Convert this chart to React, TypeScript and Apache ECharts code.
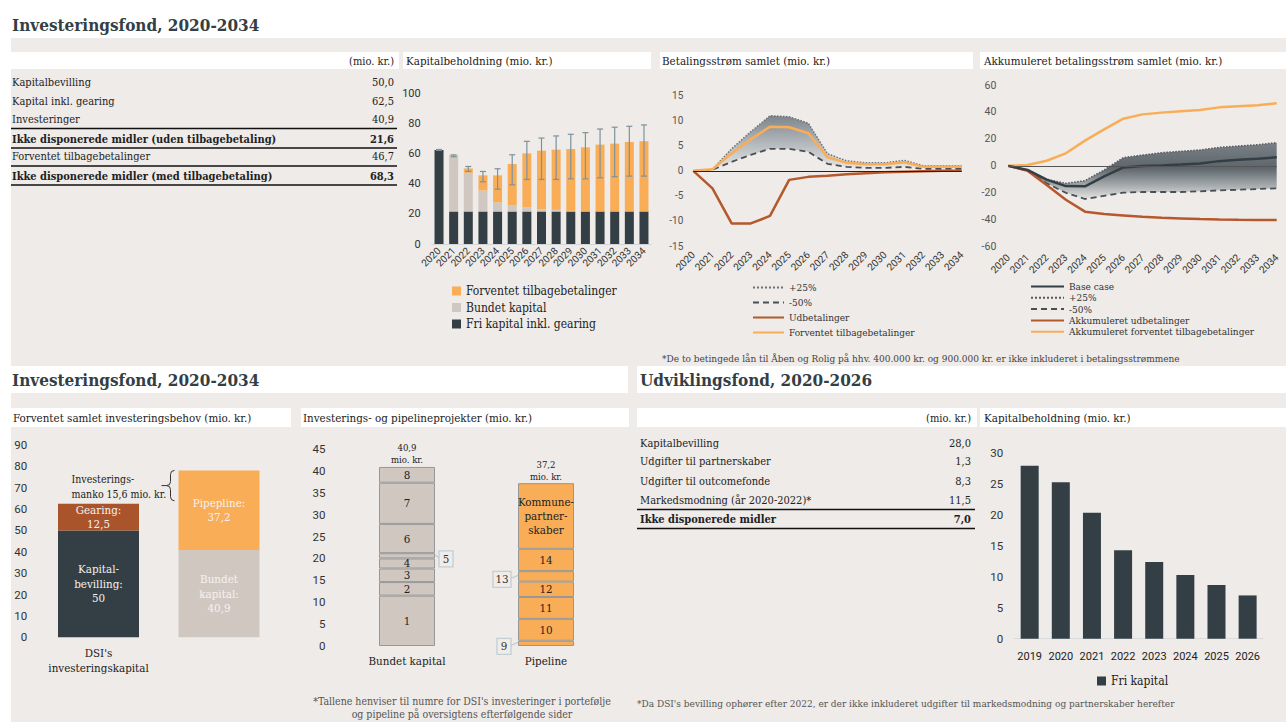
import React, { useEffect, useRef } from "react";
import * as echarts from "echarts";

// ---------- DATA ----------
const years = ["2020", "2021", "2022", "2023", "2024", "2025", "2026", "2027", "2028", "2029", "2030", "2031", "2032", "2033", "2034"];

// Kapitalbeholdning (Investeringsfond)
const friKapital = [62.5, 21.6, 21.6, 21.6, 21.6, 21.6, 21.6, 21.6, 21.6, 21.6, 21.6, 21.6, 21.6, 21.6, 21.6];
const bundetKapital = [0, 37.3, 25.7, 14.0, 6.0, 4.0, 2.8, 1.5, 1.1, 0.4, 0.3, 0, 0, 0, 0];
const forventetTilbage = [0, 0.3, 2.9, 10.0, 18.0, 27.5, 35.8, 38.9, 40.0, 41.1, 42.3, 44.4, 45.1, 46.2, 46.7];
const fejlLav = [62.2, 58.0, 48.2, 41.3, 36.4, 39.3, 42.9, 42.9, 42.9, 43.3, 43.3, 44.0, 44.7, 45.1, 45.1];
const fejlHoej = [62.8, 59.2, 51.5, 48.2, 50.0, 59.3, 68.2, 70.4, 71.8, 72.9, 74.0, 76.4, 77.6, 78.2, 79.1];

// Betalingsstrøm samlet
const udbetalinger = [0, -3.5, -10.5, -10.5, -9.0, -1.8, -1.2, -1.0, -0.7, -0.5, -0.3, -0.2, -0.1, 0, 0];
const forventetBetaling = [0, 0.3, 3.5, 6.3, 8.8, 8.7, 7.5, 2.7, 1.6, 1.3, 1.3, 1.7, 0.8, 0.8, 0.8];
const plus25 = [0, 0.3, 4.4, 7.8, 11.0, 10.8, 9.5, 3.4, 2.0, 1.6, 1.6, 2.1, 1.0, 1.0, 1.0];
const minus50 = [0, 0.2, 1.8, 3.2, 4.4, 4.4, 3.8, 1.4, 0.8, 0.6, 0.6, 0.8, 0.4, 0.4, 0.4];

// Akkumuleret betalingsstrøm samlet
const akkUdbetalinger = [0, -3.6, -14.2, -25.2, -34.0, -35.8, -36.8, -37.8, -38.5, -39.0, -39.5, -39.8, -40.0, -40.1, -40.2];
const akkForventet = [0, 0.6, 3.8, 9.3, 18.7, 27.1, 35.0, 38.2, 39.5, 40.5, 41.5, 43.4, 44.2, 44.9, 46.4];
const baseCase = [0, -3.0, -10.2, -15.0, -15.2, -7.8, -1.2, -0.2, 0.3, 1.0, 1.8, 3.5, 4.5, 5.3, 6.3];
const akkPlus25 = [0, -3.0, -10.0, -13.0, -11.0, -3.0, 6.1, 8.0, 9.8, 10.8, 11.8, 13.7, 14.7, 15.7, 17.2];
const akkMinus50 = [0, -3.6, -13.0, -20.0, -24.6, -22.2, -19.9, -19.4, -19.4, -19.4, -18.9, -18.2, -17.7, -17.2, -16.7];

// Forventet samlet investeringsbehov
const behovKategorier = ["DSI's\ninvesteringskapital", "Investeringer og\npipeline"];
const kapitalbevilling = [50, null];
const gearing = [12.5, null];
const bundetIalt = [null, 40.9];
const pipelineIalt = [null, 37.2];
const behovTekster = ["Kapital-\nbevilling:", "Gearing:", "Bundet\nkapital:", "Pipepline:"];

// Investerings- og pipelineprojekter
const projektKategorier = ["Bundet kapital", "Pipeline"];
const bundetProjekter = ["1", "2", "3", "4", "5", "6", "7", "8"];
const bundetVaerdier = [11.5, 3.1, 3.1, 2.3, 1.2, 6.7, 9.4, 3.6];
const pipelineProjekter = ["9", "10", "11", "12", "13", "14", "Kommune-\npartner-\nskaber"];
const pipelineVaerdier = [1.2, 5.0, 5.0, 3.5, 2.4, 5.1, 15.0];
const calloutProjekter = ["5", "13", "9"];

// Udviklingsfond kapitalbeholdning
const udvAar = ["2019", "2020", "2021", "2022", "2023", "2024", "2025", "2026"];
const udvFriKapital = [28.0, 25.3, 20.4, 14.3, 12.4, 10.3, 8.7, 7.0];

// Tabeller
const tabel1Labels = ["Kapitalbevilling", "Kapital inkl. gearing", "Investeringer", "Ikke disponerede midler (uden tilbagebetaling)", "Forventet tilbagebetalinger", "Ikke disponerede midler (med tilbagebetaling)"];
const tabel1Values = [50.0, 62.5, 40.9, 21.6, 46.7, 68.3];
const tabel1Bold = [false, false, false, true, false, true];
const tabel2Labels = ["Kapitalbevilling", "Udgifter til partnerskaber", "Udgifter til outcomefonde", "Markedsmodning (år 2020-2022)*", "Ikke disponerede midler"];
const tabel2Values = [28.0, 1.3, 8.3, 11.5, 7.0];
const tabel2Bold = [false, false, false, false, true];

// ---------- STYLE ----------
const SERIF = "'Roboto Slab', 'DejaVu Serif Condensed', 'DejaVu Serif', serif";
const SANS = "Roboto, 'Noto Sans', Arial, sans-serif";
const DARK = "#333f45";
const ORANGE = "#f9ad57";
const BEIGE = "#d1c7c1";
const BROWN = "#a9542b";
const BROWN_LINE = "#b5582c";
const GREY_BG = "#eeebe8";
const BAR4 = 81;
const BAR5 = 56;

const fmt1 = (v: number) => v.toFixed(1).replace(".", ",");
const fmtShort = (v: number) => (Number.isInteger(v) ? String(v) : fmt1(v));
const sum = (a: number[]) => a.reduce((s, v) => s + v, 0);
const midOf = (a: number[], i: number) => sum(a.slice(0, i)) + a[i] / 2;

const LEGEND_TEXT: Record<string, string> = {
  p25a: "+25%", m50a: "-50%", udbA: "Udbetalinger", fvA: "Forventet tilbagebetalinger",
  baseB: "Base case", p25b: "+25%", m50b: "-50%", udbB: "Akkumuleret udbetalinger", fvB: "Akkumuleret forventet tilbagebetalinger",
};

function txt(x: number, y: number, text: string, o: any = {}) {
  return {
    type: "text", x, y, silent: true, z: 5,
    style: {
      text, align: o.align || "left", verticalAlign: "middle",
      fontFamily: o.family || SERIF, fontSize: o.size || 11.5, fontWeight: o.bold ? "bold" : "normal",
      fill: o.color || "#222",
    },
  };
}
function rect(x: number, y: number, w: number, h: number, fill: string, z = -10) {
  return { type: "rect", silent: true, z, shape: { x, y, width: w, height: h }, style: { fill } };
}
function hline(x1: number, x2: number, y: number, w = 1.4) {
  return { type: "line", silent: true, z: 5, shape: { x1, y1: y, x2, y2: y }, style: { stroke: "#111", lineWidth: w } };
}

function buildGraphic() {
  const g: any[] = [];
  // backgrounds
  g.push(rect(11, 38, 1275, 328, GREY_BG, -20));
  g.push(rect(11, 393, 1275, 329, GREY_BG, -20));
  g.push(rect(628, 366, 9, 27, GREY_BG, -20));
  [[11, 388], [403, 248], [660, 313], [980, 306]].forEach(([x, w]) => g.push(rect(x, 52, w, 17, "#ffffff", -15)));
  [[11, 280], [301, 328], [637, 340], [980, 306]].forEach(([x, w]) => g.push(rect(x, 408, w, 19, "#ffffff", -15)));
  // titles
  g.push(txt(12, 25, "Investeringsfond, 2020-2034", { size: 17, bold: true, color: DARK }));
  g.push(txt(12, 380, "Investeringsfond, 2020-2034", { size: 17, bold: true, color: DARK }));
  g.push(txt(640, 380, "Udviklingsfond, 2020-2026", { size: 17, bold: true, color: DARK }));
  // panel headers
  g.push(txt(394, 61, "(mio. kr.)", { align: "right", size: 11 }));
  g.push(txt(406, 61, "Kapitalbeholdning (mio. kr.)"));
  g.push(txt(662, 61, "Betalingsstrøm samlet (mio. kr.)"));
  g.push(txt(984, 61, "Akkumuleret betalingsstrøm samlet (mio. kr.)"));
  g.push(txt(13, 418, "Forventet samlet investeringsbehov (mio. kr.)"));
  g.push(txt(303, 418, "Investerings- og pipelineprojekter (mio. kr.)"));
  g.push(txt(971, 418, "(mio. kr.)", { align: "right", size: 11 }));
  g.push(txt(984, 418, "Kapitalbeholdning (mio. kr.)"));
  // table 1
  const rows1 = [82.7, 101.5, 119.3, 139, 156.7, 176];
  tabel1Labels.forEach((l, i) => {
    g.push(txt(12, rows1[i], l, { bold: tabel1Bold[i], size: 11 }));
    g.push(txt(394, rows1[i], fmt1(tabel1Values[i]), { bold: tabel1Bold[i], align: "right", size: 11 }));
  });
  [128.5, 148, 166, 185].forEach((y) => g.push(hline(11, 397, y)));
  // table 2
  const rows2 = [443.3, 461.7, 481.7, 500, 519.3];
  tabel2Labels.forEach((l, i) => {
    g.push(txt(640, rows2[i], l, { bold: tabel2Bold[i], size: 11 }));
    g.push(txt(971, rows2[i], fmt1(tabel2Values[i]), { bold: tabel2Bold[i], align: "right", size: 11 }));
  });
  [509.5, 528.5].forEach((y) => g.push(hline(637, 975, y)));
  // footnotes
  g.push(txt(662, 358, "*De to betingede lån til Åben og Rolig på hhv. 400.000 kr. og 900.000 kr. er ikke inkluderet i betalingsstrømmene", { size: 10, color: "#444" }));
  g.push(txt(462, 701, "*Tallene henviser til numre for DSI's investeringer i portefølje", { size: 10.5, color: "#555", align: "center" }));
  g.push(txt(462, 714, "og pipeline på oversigtens efterfølgende sider", { size: 10.5, color: "#555", align: "center" }));
  g.push(txt(637, 703, "*Da DSI's bevilling ophører efter 2022, er der ikke inkluderet udgifter til markedsmodning og partnerskaber herefter", { size: 10, color: "#555" }));
  return g;
}

function valueY(gi: number, min: number, max: number, interval: number, margin: number, size: number) {
  return {
    type: "value", gridIndex: gi, min, max, interval,
    splitLine: { show: false }, axisLine: { show: false }, axisTick: { show: false },
    axisLabel: { fontFamily: SANS, fontSize: size, color: "#333", margin },
  };
}

function buildOption() {
  const grids = [
    { left: 431.7, top: 93.5, width: 219.6, height: 150.5 },
    { left: 693.3, top: 95.7, width: 268.4, height: 150.3 },
    { left: 1008.3, top: 85, width: 268.4, height: 161.7 },
    { left: 38.25, top: 445, width: 241, height: 192.3 },
    { left: 337.5, top: 449, width: 278, height: 197 },
    { left: 1014.1, top: 453.3, width: 249.1, height: 185.4 },
  ].map((g) => ({ ...g, containLabel: false, outerBoundsMode: "none" }));

  const yearAxis = (gi: number, boundaryGap: boolean, margin: number, showLine: boolean) => ({
    type: "category", gridIndex: gi, data: years, boundaryGap,
    axisLine: { show: showLine, onZero: false, lineStyle: { color: "#cfd5d9" } },
    axisTick: { show: false },
    axisLabel: { rotate: 45, interval: 0, fontFamily: SANS, fontSize: 10, color: "#333", margin },
  });

  const xAxis = [
    yearAxis(0, true, 5, true),
    yearAxis(1, false, 7, false),
    yearAxis(2, false, 9, false),
    {
      type: "category", gridIndex: 3, data: behovKategorier,
      axisLine: { show: false }, axisTick: { show: false },
      axisLabel: { fontFamily: SERIF, fontSize: 11.5, color: "#222", lineHeight: 15, margin: 8 },
    },
    {
      type: "category", gridIndex: 4, data: projektKategorier,
      axisLine: { show: false }, axisTick: { show: false },
      axisLabel: { fontFamily: SERIF, fontSize: 11.5, color: "#222", margin: 9 },
    },
    {
      type: "category", gridIndex: 5, data: udvAar,
      axisLine: { show: true, lineStyle: { color: "#d6dce0" } }, axisTick: { show: false },
      axisLabel: { fontFamily: SANS, fontSize: 11, color: "#222", margin: 12, interval: 0 },
    },
  ];
  const yAxis = [
    valueY(0, 0, 100, 20, 11, 11),
    valueY(1, -15, 15, 5, 10, 10),
    valueY(2, -60, 60, 20, 12, 10.5),
    valueY(3, 0, 90, 10, 11, 11.5),
    valueY(4, 0, 45, 5, 12, 11.5),
    valueY(5, 0, 30, 5, 11, 11.5),
  ];
  yAxis[1].axisLabel.color = "#555";
  yAxis[2].axisLabel.color = "#555";

  const series: any[] = [];
  // Chart 1
  series.push({ name: "Fri kapital inkl. gearing", type: "bar", xAxisIndex: 0, yAxisIndex: 0, stack: "k", barWidth: 9, data: friKapital, itemStyle: { color: DARK } });
  series.push({ name: "Bundet kapital", type: "bar", xAxisIndex: 0, yAxisIndex: 0, stack: "k", barWidth: 9, data: bundetKapital, itemStyle: { color: BEIGE } });
  series.push({ name: "Forventet tilbagebetalinger", type: "bar", xAxisIndex: 0, yAxisIndex: 0, stack: "k", barWidth: 9, data: forventetTilbage, itemStyle: { color: ORANGE } });
  series.push({
    name: "usikkerhed", type: "custom", xAxisIndex: 0, yAxisIndex: 0, z: 4,
    data: years.map((_, i) => [i, fejlLav[i], fejlHoej[i]]),
    encode: { x: 0, y: [1, 2] },
    renderItem: (_p: any, api: any) => {
      const x = api.value(0);
      const lo = api.coord([x, api.value(1)]);
      const hi = api.coord([x, api.value(2)]);
      const st = { stroke: "#7d929e", lineWidth: 1.2 };
      return {
        type: "group", children: [
          { type: "line", shape: { x1: lo[0], y1: lo[1], x2: hi[0], y2: hi[1] }, style: st },
          { type: "line", shape: { x1: lo[0] - 3, y1: lo[1], x2: lo[0] + 3, y2: lo[1] }, style: st },
          { type: "line", shape: { x1: hi[0] - 3, y1: hi[1], x2: hi[0] + 3, y2: hi[1] }, style: st },
        ],
      };
    },
  });

  const zeroLine = (color: string) => ({
    silent: true, symbol: ["none", "none"], label: { show: false },
    lineStyle: { color, width: 1, type: "solid" }, data: [{ yAxis: 0 }],
  });

  // Chart 2
  series.push({ name: "fanBase2", type: "line", xAxisIndex: 1, yAxisIndex: 1, stack: "fan2", stackStrategy: "all", symbol: "none", data: minus50, lineStyle: { opacity: 0 }, markLine: zeroLine("#222") });
  series.push({
    name: "fanBand2", type: "line", xAxisIndex: 1, yAxisIndex: 1, stack: "fan2", stackStrategy: "all", symbol: "none",
    data: plus25.map((v, i) => +(v - minus50[i]).toFixed(2)), lineStyle: { opacity: 0 },
    areaStyle: {
      opacity: 1,
      color: new echarts.graphic.LinearGradient(0, 0, 0, 1, [
        { offset: 0, color: "#7d858b" }, { offset: 0.5, color: "#b3b8bc" }, { offset: 1, color: "#ebe9e7" },
      ]),
    },
  });
  series.push({ name: "p25a", type: "line", xAxisIndex: 1, yAxisIndex: 1, symbol: "none", data: plus25, lineStyle: { color: "#6d7175", width: 1.5, type: "dotted" }, itemStyle: { color: "#6d7175" } });
  series.push({ name: "m50a", type: "line", xAxisIndex: 1, yAxisIndex: 1, symbol: "none", data: minus50, lineStyle: { color: "#475055", width: 1.8, type: [6, 4] }, itemStyle: { color: "#475055" } });
  series.push({ name: "udbA", type: "line", xAxisIndex: 1, yAxisIndex: 1, symbol: "none", data: udbetalinger, lineStyle: { color: BROWN_LINE, width: 2.5 }, itemStyle: { color: BROWN_LINE } });
  series.push({ name: "fvA", type: "line", xAxisIndex: 1, yAxisIndex: 1, symbol: "none", data: forventetBetaling, lineStyle: { color: ORANGE, width: 2.5 }, itemStyle: { color: ORANGE } });

  // Chart 3
  series.push({ name: "fanBase3", type: "line", xAxisIndex: 2, yAxisIndex: 2, stack: "fan3", stackStrategy: "all", symbol: "none", data: akkMinus50, lineStyle: { opacity: 0 } });
  series.push({
    name: "fanBand3", type: "line", xAxisIndex: 2, yAxisIndex: 2, stack: "fan3", stackStrategy: "all", symbol: "none",
    data: akkPlus25.map((v, i) => +(v - akkMinus50[i]).toFixed(2)), lineStyle: { opacity: 0 },
    areaStyle: {
      opacity: 1,
      color: new echarts.graphic.LinearGradient(0, 0, 0, 1, [
        { offset: 0, color: "#7a8186" }, { offset: 0.45, color: "#5d666b" }, { offset: 0.75, color: "#a3a8ab" }, { offset: 1, color: "#e6e4e2" },
      ]),
    },
    markLine: zeroLine("#555"),
  });
  series.push({ name: "p25b", type: "line", xAxisIndex: 2, yAxisIndex: 2, symbol: "none", data: akkPlus25, lineStyle: { color: "#555a5e", width: 1.5, type: "dotted" }, itemStyle: { color: "#555a5e" } });
  series.push({ name: "m50b", type: "line", xAxisIndex: 2, yAxisIndex: 2, symbol: "none", data: akkMinus50, lineStyle: { color: "#475055", width: 1.8, type: [6, 4] }, itemStyle: { color: "#475055" } });
  series.push({ name: "udbB", type: "line", xAxisIndex: 2, yAxisIndex: 2, symbol: "none", data: akkUdbetalinger, lineStyle: { color: BROWN_LINE, width: 2.5 }, itemStyle: { color: BROWN_LINE } });
  series.push({ name: "fvB", type: "line", xAxisIndex: 2, yAxisIndex: 2, symbol: "none", data: akkForventet, lineStyle: { color: ORANGE, width: 2.5 }, itemStyle: { color: ORANGE } });
  series.push({ name: "baseB", type: "line", xAxisIndex: 2, yAxisIndex: 2, symbol: "none", data: baseCase, lineStyle: { color: DARK, width: 2.5 }, itemStyle: { color: DARK } });

  // Chart 4
  const behovSeries = [
    { name: "Kapitalbevilling", data: kapitalbevilling, color: DARK },
    { name: "Gearing", data: gearing, color: BROWN },
    { name: "Bundet kapital ialt", data: bundetIalt, color: BEIGE },
    { name: "Pipeline ialt", data: pipelineIalt, color: ORANGE },
  ];
  behovSeries.forEach((s, i) => {
    series.push({
      name: s.name, type: "bar", xAxisIndex: 3, yAxisIndex: 3, stack: "b4", barWidth: BAR4, data: s.data,
      itemStyle: { color: s.color },
      label: {
        show: true, position: "inside", fontFamily: SERIF, fontSize: 11.5, lineHeight: 14.5, color: "#f6f2ee",
        formatter: (p: any) => `${behovTekster[i]}\n${fmtShort(p.value)}`,
      },
    });
  });
  const dsiTotal = (kapitalbevilling[0] as number) + (gearing[0] as number);
  const invTotal = (bundetIalt[1] as number) + (pipelineIalt[1] as number);
  series.push({
    name: "manko", type: "custom", xAxisIndex: 3, yAxisIndex: 3, z: 5,
    data: [[1, dsiTotal, invTotal]], encode: { x: 0, y: [1, 2] },
    renderItem: (_p: any, api: any) => {
      const x = api.value(0), lo = api.value(1), hi = api.value(2);
      const pT = api.coord([x, hi]);
      const pB = api.coord([x, lo]);
      const xr = pT[0] - BAR4 / 2 - 4;
      const a = xr - 4, tip = xr - 8;
      const t = pT[1], b = pB[1] - 3, m = (t + b) / 2;
      const d = `M${xr} ${t} Q${a} ${t} ${a} ${t + 4} L${a} ${m - 4} Q${a} ${m} ${tip} ${m} Q${a} ${m} ${a} ${m + 4} L${a} ${b - 4} Q${a} ${b} ${xr} ${b} M${tip} ${m} L${tip - 5} ${m}`;
      return {
        type: "group", children: [
          { type: "path", shape: { pathData: d }, style: { stroke: "#333", lineWidth: 1, fill: "none" } },
          {
            type: "text",
            style: {
              text: `Investerings-\nmanko ${fmt1(hi - lo)} mio. kr.`, x: tip - 95, y: m + 1,
              align: "left", verticalAlign: "middle", fontFamily: SERIF, fontSize: 10.5, lineHeight: 15, fill: "#222",
            },
          },
        ],
      };
    },
  });

  // Chart 5
  const segStyle = (color: string) => ({ color, borderColor: "#979797", borderWidth: 1 });
  bundetProjekter.forEach((n, i) => {
    series.push({
      name: "Projekt " + n, type: "bar", xAxisIndex: 4, yAxisIndex: 4, stack: "p5", barWidth: BAR5,
      data: [bundetVaerdier[i], null], itemStyle: segStyle(BEIGE),
      label: { show: !calloutProjekter.includes(n), position: "inside", formatter: n, fontFamily: SERIF, fontSize: 11.5, color: "#222" },
    });
  });
  pipelineProjekter.forEach((n, i) => {
    series.push({
      name: "Projekt " + n, type: "bar", xAxisIndex: 4, yAxisIndex: 4, stack: "p5", barWidth: BAR5,
      data: [null, pipelineVaerdier[i]], itemStyle: segStyle(ORANGE),
      label: { show: !calloutProjekter.includes(n), position: "inside", formatter: n, fontFamily: SERIF, fontSize: 11.5, lineHeight: 14, color: "#222" },
    });
  });
  series.push({
    name: "totaler", type: "custom", xAxisIndex: 4, yAxisIndex: 4, z: 5,
    data: [[0, sum(bundetVaerdier)], [1, sum(pipelineVaerdier)]], encode: { x: 0, y: 1 },
    renderItem: (_p: any, api: any) => {
      const p = api.coord([api.value(0), api.value(1)]);
      return {
        type: "text",
        style: {
          text: `${fmt1(api.value(1))}\nmio. kr.`, x: p[0], y: p[1] - 1, align: "center", verticalAlign: "bottom",
          fontFamily: SERIF, fontSize: 9.5, lineHeight: 12, fill: "#222",
        },
      };
    },
  });
  const calloutData = calloutProjekter.map((n) => {
    const bi = bundetProjekter.indexOf(n);
    if (bi >= 0) return [0, midOf(bundetVaerdier, bi), 1];
    return [1, midOf(pipelineVaerdier, pipelineProjekter.indexOf(n)), -1];
  });
  series.push({
    name: "callouts", type: "custom", xAxisIndex: 4, yAxisIndex: 4, z: 5,
    data: calloutData, encode: { x: 0, y: 1 },
    renderItem: (params: any, api: any) => {
      const side = api.value(2);
      const p = api.coord([api.value(0), api.value(1)]);
      const label = calloutProjekter[params.dataIndex];
      const w = label.length > 1 ? 18 : 14, h = 16;
      const edge = p[0] + (side * BAR5) / 2;
      const bx = side > 0 ? edge + 4 : edge - 7 - w;
      const by = p[1] - 5;
      const bEdge = side > 0 ? bx : bx + w;
      const st = { stroke: "#c3ced5", lineWidth: 1.3 };
      return {
        type: "group", children: [
          { type: "rect", shape: { x: bx, y: by, width: w, height: h }, style: { fill: "#efece9", ...st } },
          { type: "line", shape: { x1: edge, y1: p[1] - 1, x2: bEdge, y2: p[1] + 2 }, style: st },
          {
            type: "text",
            style: { text: label, x: bx + w / 2, y: by + h / 2, align: "center", verticalAlign: "middle", fontFamily: SERIF, fontSize: 11.5, fill: "#333" },
          },
        ],
      };
    },
  });

  // Chart 7
  series.push({ name: "Fri kapital", type: "bar", xAxisIndex: 5, yAxisIndex: 5, barWidth: 18, data: udvFriKapital, itemStyle: { color: DARK } });

  const legends = [
    {
      data: ["Forventet tilbagebetalinger", "Bundet kapital", "Fri kapital inkl. gearing"],
      orient: "vertical", left: 447, top: 280, itemWidth: 9, itemHeight: 9, itemGap: 4.5, icon: "rect",
      textStyle: { fontFamily: SERIF, fontSize: 12, color: "#222" },
    },
    {
      data: ["p25a", "m50a", "udbA", "fvA"], formatter: (n: string) => LEGEND_TEXT[n],
      orient: "vertical", left: 747, top: 277.5, itemWidth: 31, itemHeight: 8, itemGap: 5,
      itemStyle: { opacity: 0 },
      textStyle: { fontFamily: SERIF, fontSize: 10, color: "#333" },
    },
    {
      data: ["baseB", "p25b", "m50b", "udbB", "fvB"], formatter: (n: string) => LEGEND_TEXT[n],
      orient: "vertical", left: 1025, top: 276.5, itemWidth: 33, itemHeight: 8, itemGap: 1.3,
      itemStyle: { opacity: 0 },
      textStyle: { fontFamily: SERIF, fontSize: 10, color: "#333" },
    },
    {
      data: ["Fri kapital"], left: 1092, top: 670, itemWidth: 9, itemHeight: 9, icon: "rect",
      textStyle: { fontFamily: SERIF, fontSize: 12, color: "#222" },
    },
  ];

  return {
    animation: false,
    backgroundColor: "#ffffff",
    textStyle: { fontFamily: SANS },
    grid: grids,
    xAxis,
    yAxis,
    legend: legends,
    series,
    graphic: buildGraphic(),
  };
}

export default function App() {
  const ref = useRef<HTMLDivElement>(null);
  useEffect(() => {
    document.body.style.margin = "0";
    const chart = echarts.init(ref.current as HTMLDivElement, null, { renderer: "svg" });
    chart.setOption(buildOption() as any);
    return () => chart.dispose();
  }, []);
  return <div ref={ref} style={{ width: 1286, height: 722 }} />;
}
